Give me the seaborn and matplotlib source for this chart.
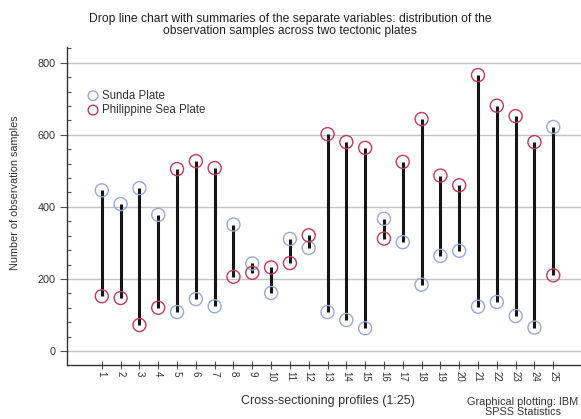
import matplotlib
matplotlib.use("Agg")
import matplotlib.pyplot as plt
from matplotlib.ticker import MultipleLocator, FixedLocator
import numpy as np
import pandas as pd
import seaborn as sns

# Observation counts per cross-sectioning profile
profiles = list(range(1, 26))
sunda = [446, 408, 452, 378, 108, 144, 124, 351, 243, 161, 311, 286,
         108, 86, 63, 367, 302, 184, 264, 278, 123, 136, 97, 65, 622]
philippine = [152, 147, 72, 120, 505, 527, 508, 206, 217, 232, 244, 321,
              602, 580, 564, 312, 525, 644, 487, 460, 766, 681, 652, 580, 210]
y_ticks = [0, 200, 400, 600, 800]

sunda_color = "#98a9d8"
sea_color = "#c43a57"

sns.set_theme(style="white")
plt.rcParams["font.family"] = ["Liberation Sans", "DejaVu Sans"]

df = pd.DataFrame({"profile": profiles, "sunda": sunda, "philippine": philippine})

fig = plt.figure(figsize=(5.81, 4.19), dpi=100)
ax = fig.add_axes([67 / 581, 1 - 365 / 419, (589 - 67) / 581, (365 - 47) / 419])

# horizontal reference lines
for v in y_ticks:
    ax.axhline(v, color="#c4c4c4", lw=1.0, zorder=0)

# drop lines joining the two plates' values
ax.vlines(df["profile"], df["sunda"], df["philippine"], color="#151515",
          lw=2.2, zorder=2)

sns.scatterplot(data=df, x="profile", y="sunda", ax=ax, s=88, marker="o",
                color=sunda_color, facecolor="none", edgecolor=sunda_color,
                linewidth=1.0, zorder=3, label="Sunda Plate")
sns.scatterplot(data=df, x="profile", y="philippine", ax=ax, s=88, marker="o",
                color=sea_color, facecolor="none", edgecolor=sea_color,
                linewidth=1.0, zorder=3, label="Philippine Sea Plate")

ax.set_xlim(-0.85, 26.9)
ax.set_ylim(-39, 844)
ax.set_xlabel("")
ax.set_ylabel("")

ax.yaxis.set_major_locator(FixedLocator(y_ticks))
ax.yaxis.set_minor_locator(MultipleLocator(40))
ax.xaxis.set_major_locator(FixedLocator(profiles))
ax.set_xticklabels([str(p) for p in profiles], rotation=-90, fontsize=7,
                   color="#333333")
ax.tick_params(axis="y", which="major", direction="out", length=5, width=0.8,
               color="#555555", labelsize=7.8, labelcolor="#333333", pad=3,
               left=True)
ax.tick_params(axis="y", which="minor", direction="in", length=3, width=0.8,
               color="#555555", left=True)
ax.tick_params(axis="x", which="major", direction="inout", length=6, width=0.8,
               color="#555555", pad=1, bottom=True)

for side in ["top", "right"]:
    ax.spines[side].set_visible(False)
for side in ["left", "bottom"]:
    ax.spines[side].set_color("#333333")
    ax.spines[side].set_linewidth(1.0)

leg = ax.legend(loc="upper left", bbox_to_anchor=(0.03, 0.88), frameon=False,
                fontsize=8.3, handletextpad=0.25, labelspacing=0.2,
                markerscale=0.75, borderaxespad=0, handlelength=1.0)
for t in leg.get_texts():
    t.set_color("#333333")

fig.text(290 / 581, 1 - 25 / 419,
         "Drop line chart with summaries of the separate variables: distribution of the\n"
         "observation samples across two tectonic plates",
         ha="center", va="center", fontsize=8.7, color="#222222", linespacing=1.0)
fig.text(15 / 581, 1 - 193 / 419, "Number of observation samples", rotation=90,
         ha="center", va="center", fontsize=7.8, color="#333333")
fig.text(328 / 581, 1 - 401 / 419, "Cross-sectioning profiles (1:25)",
         ha="center", va="center", fontsize=9.0, color="#333333")
fig.text(523 / 581, 1 - 407 / 419, "Graphical plotting: IBM\nSPSS Statistics",
         ha="center", va="center", fontsize=7.8, color="#333333", linespacing=0.95)

fig.savefig("out.png", dpi=100)
